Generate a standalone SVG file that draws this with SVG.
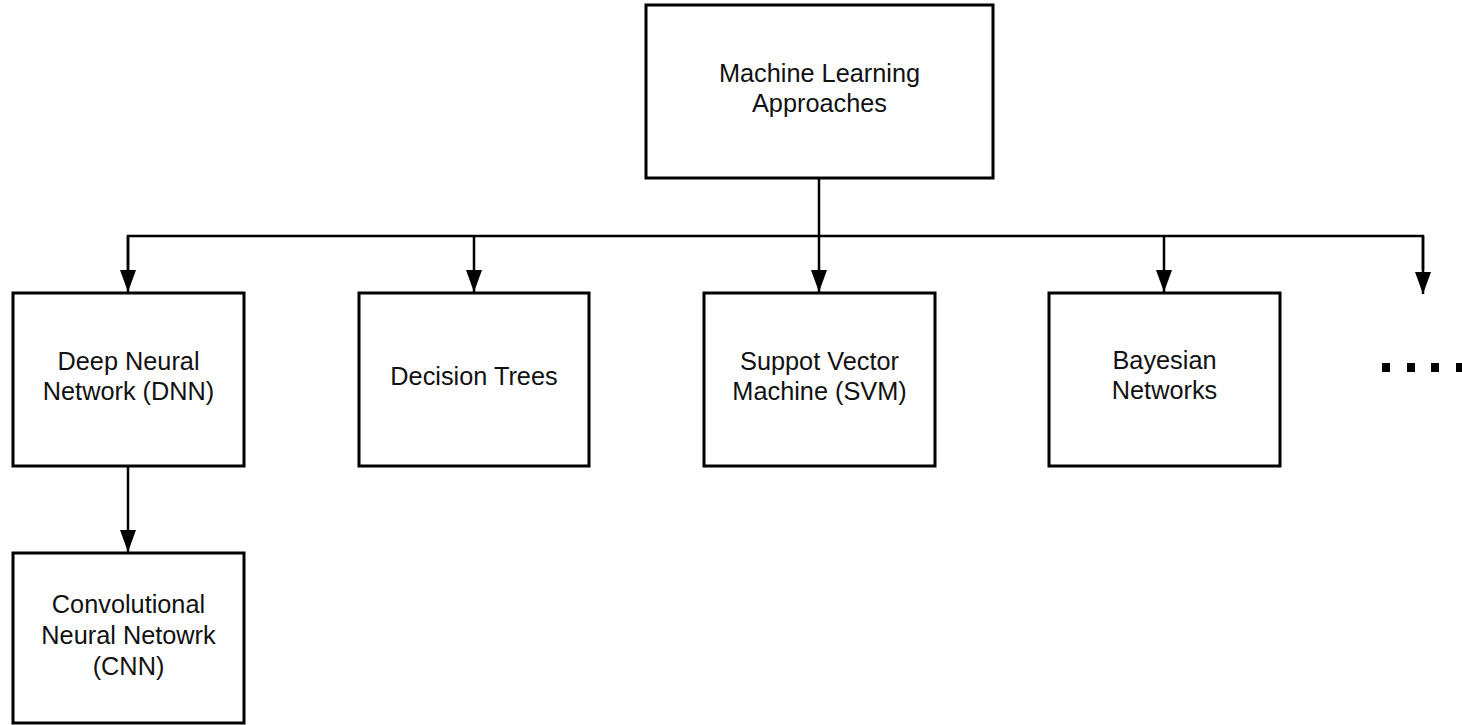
<svg xmlns="http://www.w3.org/2000/svg" width="1462" height="725" viewBox="0 0 1462 725">
<style>
.box{fill:#fff;stroke:#000;stroke-width:3}
.lbl{font-family:"Liberation Sans",Arial,sans-serif;font-size:25.3px;fill:#111;text-anchor:middle}
.conn{fill:none;stroke:#000;stroke-width:2.5}
.dot{fill:#000}
</style>
<defs>
<marker id="arr" markerUnits="userSpaceOnUse" markerWidth="22" markerHeight="16" refX="22" refY="8" orient="auto" viewBox="0 0 22 16">
<path d="M0,0 L22,8 L0,16 Z" fill="#000"/>
</marker>
</defs>
<rect width="1462" height="725" fill="#fff"/>
<g id="connectors">
<path class="conn" d="M819,178 V292" marker-end="url(#arr)"/>
<path class="conn" d="M128,270 V236 H1423 V270"/>
<path class="conn" d="M128,236 V292" marker-end="url(#arr)"/>
<path class="conn" d="M474,236 V292" marker-end="url(#arr)"/>
<path class="conn" d="M1164,236 V292" marker-end="url(#arr)"/>
<path class="conn" d="M1423,236 V294" marker-end="url(#arr)"/>
<path class="conn" d="M128,466 V552" marker-end="url(#arr)"/>
</g>
<g id="root">
<rect class="box" x="646" y="5" width="347" height="173"/>
<text class="lbl" x="819.5" y="82">Machine Learning</text>
<text class="lbl" x="819.5" y="112">Approaches</text>
</g>
<g id="dnn">
<rect class="box" x="13" y="293" width="231" height="173"/>
<text class="lbl" x="128.5" y="370">Deep Neural</text>
<text class="lbl" x="128.5" y="400">Network (DNN)</text>
</g>
<g id="dt">
<rect class="box" x="359" y="293" width="230" height="173"/>
<text class="lbl" x="474" y="385">Decision Trees</text>
</g>
<g id="svm">
<rect class="box" x="704" y="293" width="231" height="173"/>
<text class="lbl" x="819.5" y="370">Suppot Vector</text>
<text class="lbl" x="819.5" y="400">Machine (SVM)</text>
</g>
<g id="bn">
<rect class="box" x="1049" y="293" width="231" height="173"/>
<text class="lbl" x="1164.5" y="369">Bayesian</text>
<text class="lbl" x="1164.5" y="399">Networks</text>
</g>
<g id="cnn">
<rect class="box" x="13" y="553" width="231" height="170"/>
<text class="lbl" x="128.5" y="613">Convolutional</text>
<text class="lbl" x="128.5" y="644">Neural Netowrk</text>
<text class="lbl" x="128.5" y="675">(CNN)</text>
</g>
<g id="more">
<rect class="dot" x="1382" y="363" width="8" height="9"/>
<rect class="dot" x="1407" y="363" width="8" height="9"/>
<rect class="dot" x="1431" y="363" width="8" height="9"/>
<rect class="dot" x="1456" y="363" width="8" height="9"/>
</g>
</svg>
